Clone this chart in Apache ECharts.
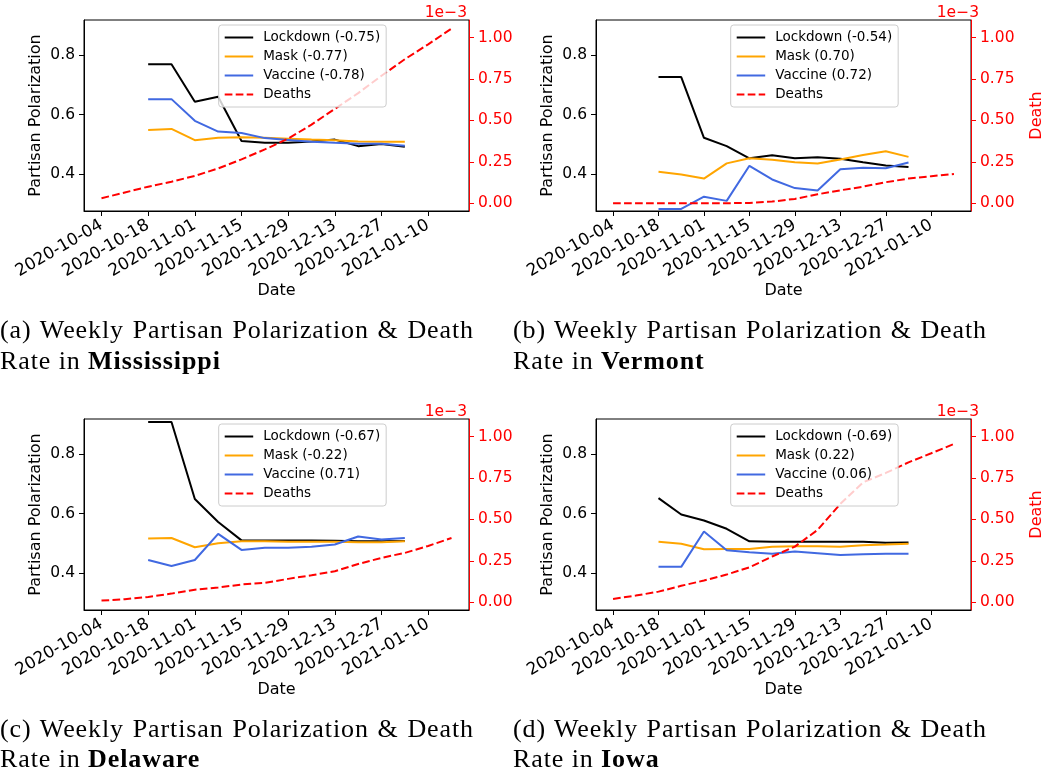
<!DOCTYPE html>
<html>
<head>
<meta charset="utf-8">
<script src="https://cdn.jsdelivr.net/npm/echarts@6/dist/echarts.min.js"></script>
<style>
html,body{margin:0;padding:0;background:#fff;}
#wrap{position:relative;width:1046px;height:773px;overflow:hidden;}
#chart{position:absolute;left:0;top:0;width:1046px;height:773px;}
.cap{position:absolute;font-family:"Liberation Serif","DejaVu Serif",serif;font-size:26px;line-height:29.5px;letter-spacing:0.9px;color:#000;white-space:nowrap;}
.cap1{text-align:justify;text-align-last:justify;width:474px;white-space:normal;}
</style>
</head>
<body>
<div id="wrap">
<div id="chart"></div>
<div class="cap cap1" style="left:0px;top:315px;">(a) Weekly Partisan Polarization &amp; Death</div>
<div class="cap" style="left:0px;top:346px;">Rate in <b>Mississippi</b></div>
<div class="cap cap1" style="left:513px;top:315px;">(b) Weekly Partisan Polarization &amp; Death</div>
<div class="cap" style="left:513px;top:346px;">Rate in <b>Vermont</b></div>
<div class="cap cap1" style="left:0px;top:714px;">(c) Weekly Partisan Polarization &amp; Death</div>
<div class="cap" style="left:0px;top:744px;">Rate in <b>Delaware</b></div>
<div class="cap cap1" style="left:513px;top:714px;">(d) Weekly Partisan Polarization &amp; Death</div>
<div class="cap" style="left:513px;top:744px;">Rate in <b>Iowa</b></div>
</div>
<script>
// ---- data ----
const deathWeeks = ['2020-10-04','2020-10-11','2020-10-18','2020-10-25','2020-11-01','2020-11-08','2020-11-15','2020-11-22','2020-11-29','2020-12-06','2020-12-13','2020-12-20','2020-12-27','2021-01-03','2021-01-10','2021-01-17'];
const pollWeeks = ['2020-10-18','2020-10-25','2020-11-01','2020-11-08','2020-11-15','2020-11-22','2020-11-29','2020-12-06','2020-12-13','2020-12-20','2020-12-27','2021-01-03'];
const xTickLabels = ['2020-10-04','2020-10-18','2020-11-01','2020-11-15','2020-11-29','2020-12-13','2020-12-27','2021-01-10'];
const leftTicks = [0.4, 0.6, 0.8];
const rightTicks = [0, 0.25, 0.5, 0.75, 1.0];
const deathScaleLabel = '1e\u22123';   // death values below are in units of 1e-3

const states = ['Mississippi', 'Vermont', 'Delaware', 'Iowa'];
const lockdownNames = ['Lockdown (-0.75)', 'Lockdown (-0.54)', 'Lockdown (-0.67)', 'Lockdown (-0.69)'];
const maskNames = ['Mask (-0.77)', 'Mask (0.70)', 'Mask (-0.22)', 'Mask (0.22)'];
const vaccineNames = ['Vaccine (-0.78)', 'Vaccine (0.72)', 'Vaccine (0.71)', 'Vaccine (0.06)'];

const lockdownMS = [0.769,0.769,0.643,0.660,0.511,0.505,0.505,0.510,0.516,0.494,0.501,0.492];
const maskMS     = [0.548,0.552,0.514,0.522,0.524,0.522,0.519,0.516,0.514,0.510,0.509,0.509];
const vaccineMS  = [0.652,0.652,0.579,0.543,0.538,0.521,0.515,0.509,0.505,0.502,0.502,0.495];
const deathsMS   = [0.03,0.065,0.10,0.13,0.165,0.21,0.265,0.325,0.39,0.475,0.57,0.665,0.77,0.87,0.96,1.055];

const lockdownVT = [0.726,0.726,0.522,0.494,0.453,0.463,0.453,0.457,0.452,0.440,0.429,0.424];
const maskVT     = [0.408,0.399,0.385,0.436,0.453,0.448,0.440,0.436,0.449,0.464,0.477,0.458];
const vaccineVT  = [0.283,0.283,0.324,0.310,0.428,0.382,0.353,0.345,0.416,0.421,0.420,0.439];
const deathsVT   = [0,0,0,0,0,0,0.002,0.01,0.026,0.054,0.078,0.10,0.127,0.149,0.163,0.177];

const lockdownDE = [0.908,0.908,0.649,0.572,0.510,0.510,0.510,0.510,0.509,0.507,0.507,0.508];
const maskDE     = [0.516,0.518,0.487,0.500,0.507,0.507,0.505,0.505,0.505,0.504,0.504,0.507];
const vaccineDE  = [0.444,0.424,0.444,0.532,0.478,0.485,0.485,0.489,0.496,0.523,0.513,0.518];
const deathsDE   = [0.01,0.018,0.032,0.052,0.076,0.089,0.107,0.117,0.141,0.163,0.187,0.231,0.268,0.298,0.34,0.388];

const lockdownIA = [0.652,0.597,0.577,0.549,0.507,0.505,0.505,0.505,0.505,0.505,0.502,0.503];
const maskIA     = [0.505,0.499,0.480,0.481,0.481,0.489,0.490,0.490,0.489,0.494,0.496,0.499];
const vaccineIA  = [0.421,0.421,0.540,0.477,0.470,0.465,0.473,0.467,0.461,0.463,0.465,0.465];
const deathsIA   = [0.02,0.04,0.064,0.099,0.131,0.167,0.211,0.276,0.336,0.437,0.594,0.724,0.781,0.845,0.90,0.956];

const lockdownAll = [lockdownMS, lockdownVT, lockdownDE, lockdownIA];
const maskAll = [maskMS, maskVT, maskDE, maskIA];
const vaccineAll = [vaccineMS, vaccineVT, vaccineDE, vaccineIA];
const deathsAll = [deathsMS, deathsVT, deathsDE, deathsIA];

// ---- layout / style ----
const DAY = 86400000;
const t = s => Date.parse(s);
const xMin = t(deathWeeks[0]) - 5.25 * DAY;
const xMax = t(deathWeeks[deathWeeks.length - 1]) + 5.25 * DAY;
const xTickVals = xTickLabels.map(t);
const FONT = 'DejaVu Sans';
const grids = [
  {left: 84, top: 20, width: 385, height: 191},
  {left: 596, top: 20, width: 385, height: 191},
  {left: 84, top: 419, width: 385, height: 191},
  {left: 596, top: 419, width: 385, height: 191}
];
const COLORS = {lockdown: '#000000', mask: '#FFA500', vaccine: '#4169E1', deaths: '#FF0000'};

const option = {
  animation: false,
  textStyle: {fontFamily: FONT},
  grid: grids.map(g => Object.assign({show: true, borderColor: '#000', borderWidth: 1, backgroundColor: 'transparent'}, g)),
  xAxis: [], yAxis: [], series: [], legend: [], graphic: []
};

grids.forEach((g, i) => {
  option.xAxis.push({
    gridIndex: i, type: 'value', min: xMin, max: xMax,
    axisLine: {show: true, onZero: false, lineStyle: {color: '#000', width: 1}},
    axisTick: {show: true, customValues: xTickVals, length: 5, lineStyle: {color: '#000', width: 1}},
    axisLabel: {show: true, customValues: xTickVals, rotate: 30, margin: 13, fontSize: 16.8, color: '#000', fontFamily: FONT,
      formatter: v => new Date(v).toISOString().slice(0, 10)},
    splitLine: {show: false},
    name: 'Date', nameLocation: 'middle', nameGap: 69,
    nameTextStyle: {fontSize: 16, color: '#000', fontFamily: FONT}
  });
  option.yAxis.push({
    gridIndex: i, type: 'value', position: 'left', min: 0.276, max: 0.918,
    axisLine: {show: true, lineStyle: {color: '#000', width: 1}},
    axisTick: {show: true, customValues: leftTicks, length: 5, lineStyle: {color: '#000', width: 1}},
    axisLabel: {show: true, customValues: leftTicks, margin: 9, fontSize: 15.5, color: '#000', fontFamily: FONT,
      formatter: v => v.toFixed(1)},
    splitLine: {show: false},
    name: 'Partisan Polarization', nameLocation: 'middle', nameGap: 40,
    nameTextStyle: {fontSize: 16, color: '#000', fontFamily: FONT}
  });
  option.yAxis.push({
    gridIndex: i, type: 'value', position: 'right', min: -0.047, max: 1.107,
    axisLine: {show: true, lineStyle: {color: '#FF0000', width: 1}},
    axisTick: {show: true, customValues: rightTicks, length: 5, lineStyle: {color: '#FF0000', width: 1}},
    axisLabel: {show: true, customValues: rightTicks, margin: 9, fontSize: 15.5, color: '#FF0000', fontFamily: FONT,
      formatter: v => v.toFixed(2)},
    splitLine: {show: false},
    name: (i === 1 || i === 3) ? 'Death' : '', nameLocation: 'middle', nameGap: 58,
    nameTextStyle: {fontSize: 16, color: '#FF0000', fontFamily: FONT}
  });

  const pollPairs = arr => pollWeeks.map((d, k) => [t(d), arr[k]]);
  const mk = (name, data, color, yIdx, dashed) => ({
    type: 'line', name, xAxisIndex: i, yAxisIndex: yIdx, data,
    symbol: 'none', showSymbol: false, smooth: false,
    lineStyle: {color, width: 2, type: dashed ? [7.7, 3.3] : 'solid'},
    itemStyle: {color}, emphasis: {disabled: true}
  });
  option.series.push(mk(lockdownNames[i], pollPairs(lockdownAll[i]), COLORS.lockdown, 2 * i, false));
  option.series.push(mk(maskNames[i], pollPairs(maskAll[i]), COLORS.mask, 2 * i, false));
  option.series.push(mk(vaccineNames[i], pollPairs(vaccineAll[i]), COLORS.vaccine, 2 * i, false));
  option.series.push(mk('Deaths', deathWeeks.map((d, k) => [t(d), deathsAll[i][k]]), COLORS.deaths, 2 * i + 1, true));

  option.legend.push({
    data: [lockdownNames[i], maskNames[i], vaccineNames[i], 'Deaths'],
    orient: 'vertical', left: g.left + 134.7, top: g.top + 5,
    itemWidth: 28.5, itemHeight: 19, itemGap: 0,
    padding: [3, 6, 3, 5],
    backgroundColor: 'rgba(255,255,255,0.8)', borderColor: '#cccccc', borderWidth: 1, borderRadius: 3,
    itemStyle: {opacity: 0},
    textStyle: {fontSize: 13.5, color: '#000', fontFamily: FONT, lineHeight: 19, padding: [0, 0, 0, 5]},
    selectedMode: false
  });

  option.graphic.push({
    type: 'text', x: g.left + g.width - 2, y: g.top - 7.3,
    style: {text: deathScaleLabel, fill: '#FF0000', font: '15.5px "DejaVu Sans"', textAlign: 'right', textVerticalAlign: 'middle'}
  });
});

const chart = echarts.init(document.getElementById('chart'), null, {renderer: 'canvas'});
chart.setOption(option);
</script>
</body>
</html>
